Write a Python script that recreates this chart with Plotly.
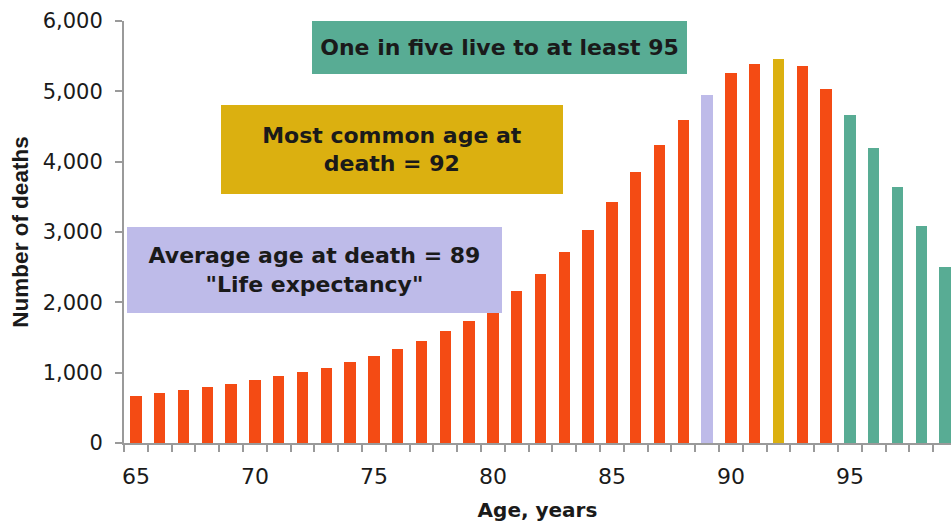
import plotly.graph_objects as go

# ---- data ----
ages = list(range(65, 100))
deaths = [668, 706, 753, 800, 838, 895, 952, 1009, 1070, 1150,
          1236, 1331, 1445, 1587, 1737, 1900, 2163, 2410, 2717, 3035,
          3423, 3849, 4233, 4588, 4953, 5260, 5384, 5455, 5355, 5028,
          4663, 4200, 3641, 3082, 2504]
average_age = 89
modal_age = 92
survive_age = 95
x_tick_vals = [65, 70, 75, 80, 85, 90, 95]
y_tick_vals = [0, 1000, 2000, 3000, 4000, 5000, 6000]

# ---- styles ----
ORANGE = "#F44B14"
LAVENDER = "#BEBBE9"
GOLD = "#DBB010"
TEAL = "#58AC94"
AXIS = "#9a9a9a"
TXT = "#1a1a1a"


def bar_colour(a):
    if a == average_age:
        return LAVENDER
    if a == modal_age:
        return GOLD
    if a >= survive_age:
        return TEAL
    return ORANGE


colours = [bar_colour(a) for a in ages]

fig = go.Figure()
fig.add_trace(go.Bar(
    x=ages, y=deaths, width=0.48,
    marker=dict(color=colours, line=dict(width=0)),
    hoverinfo="x+y",
))

# plot area: x 124..951 px, y 21..443 px (page body margin removed below)
x0 = 64.5
px_per_year = 23.8
plot_w = 951 - 124
x1 = x0 + plot_w / px_per_year

fig.update_layout(
    width=951, height=523,
    margin=dict(l=124, r=0, t=21, b=80, autoexpand=False),
    paper_bgcolor="white", plot_bgcolor="white",
    showlegend=False,
    bargap=0,
    font=dict(family="DejaVu Sans", color=TXT),
)

fig.update_xaxes(
    range=[x0, x1],
    tickmode="array", tickvals=x_tick_vals, ticktext=[str(v) for v in x_tick_vals],
    ticks="outside", ticklen=7, tickcolor="rgba(0,0,0,0)",
    ticklabelstandoff=6,
    tickfont=dict(family="DejaVu Sans", size=22, color=TXT),
    minor=dict(tickmode="linear", tick0=64.5, dtick=1, ticks="outside",
               ticklen=7, tickwidth=2, tickcolor=AXIS, showgrid=False),
    showline=True, linecolor=AXIS, linewidth=2,
    showgrid=False, zeroline=False,
    title=dict(text="Age, years", standoff=15,
               font=dict(family="DejaVu Sans", size=20, weight="bold", color=TXT)),
)

fig.update_yaxes(
    range=[0, 6000],
    tickmode="array", tickvals=y_tick_vals, tickformat=",",
    ticks="outside", ticklen=7, tickwidth=2, tickcolor=AXIS,
    ticklabelstandoff=8,
    tickfont=dict(family="DejaVu Sans", size=21, color=TXT),
    showline=True, linecolor=AXIS, linewidth=2,
    showgrid=False, zeroline=False,
    title=dict(text="Number of deaths", standoff=8,
               font=dict(family="Liberation Sans", size=22.5, weight="bold", color=TXT)),
)

ann_font = dict(family="DejaVu Sans", size=22, weight="bold", color=TXT)
fig.add_annotation(
    x=80.26, y=5621, xref="x", yref="y",
    text="One in five live to at least 95",
    showarrow=False, bgcolor=TEAL, width=375, height=53,
    borderwidth=0, borderpad=0, font=ann_font,
    xanchor="center", yanchor="middle",
)
fig.add_annotation(
    x=75.76, y=4170, xref="x", yref="y",
    text="Most common age at<br>death = 92",
    showarrow=False, bgcolor=GOLD, width=342, height=89,
    borderwidth=0, borderpad=0, font=ann_font,
    xanchor="center", yanchor="middle",
)
fig.add_annotation(
    x=72.50, y=2458, xref="x", yref="y",
    text="Average age at death = 89<br>\"Life expectancy\"",
    showarrow=False, bgcolor=LAVENDER, width=375, height=86,
    borderwidth=0, borderpad=0, font=ann_font,
    xanchor="center", yanchor="middle",
)

fig.write_html(
    "out.html",
    config={"displayModeBar": False},
    post_script="document.body.style.margin='0';document.body.style.overflow='hidden';",
)
